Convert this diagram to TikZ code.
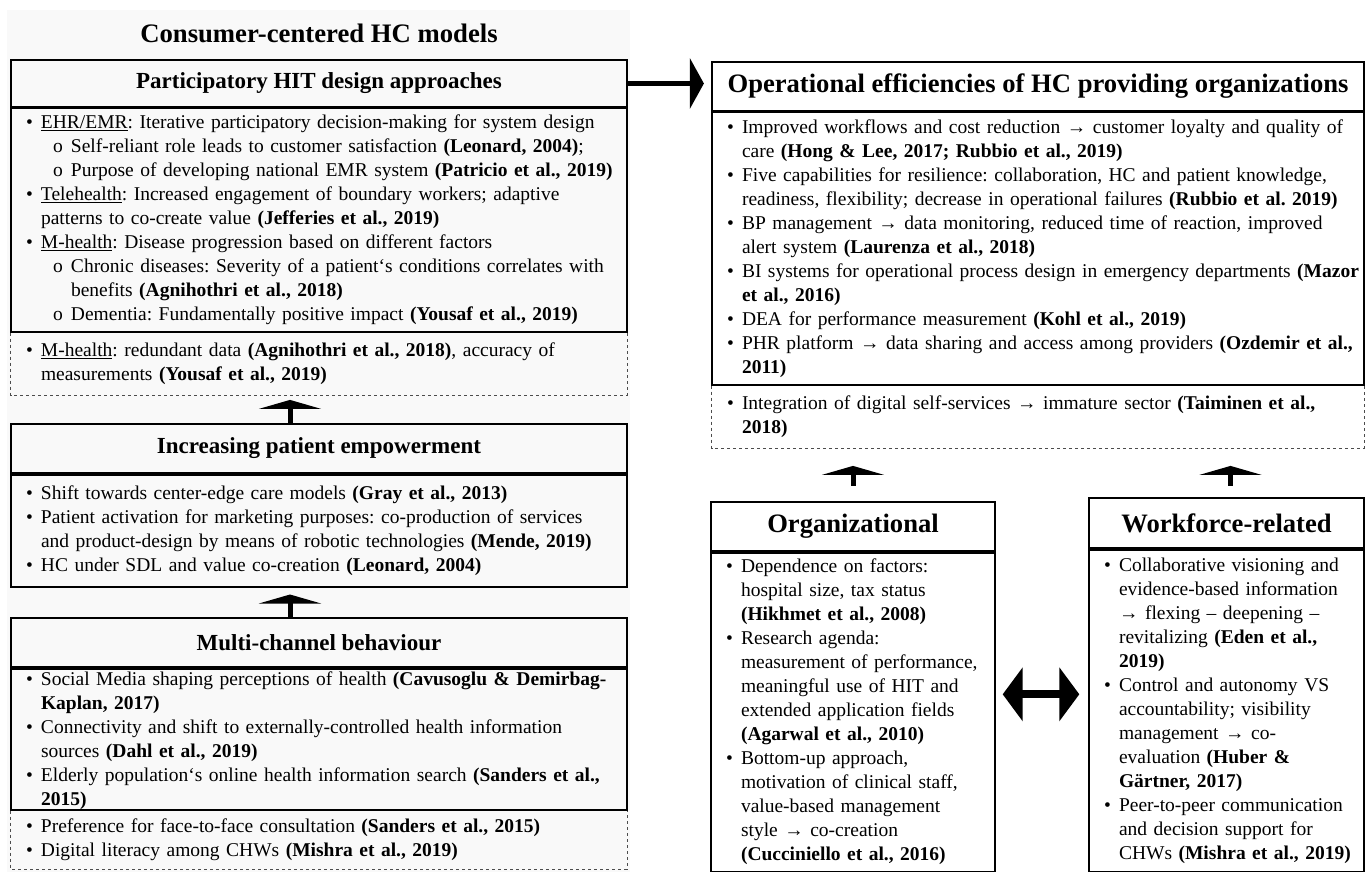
\documentclass[tikz,border=0pt]{standalone}
\usepackage{fontspec}
\setmainfont{Liberation Serif}
\usetikzlibrary{arrows.meta,positioning}

\newcommand{\itm}[1]{\par\hangindent=30pt\hangafter=1\noindent\hspace*{15pt}\makebox[15pt][l]{\textbullet}#1\par}
\newcommand{\subitm}[1]{\par\hangindent=60pt\hangafter=1\noindent\hspace*{42pt}\makebox[18pt][l]{o}#1\par}
\newcommand{\topfix}{\par\vspace*{-10.5pt}}

\begin{document}
\begin{tikzpicture}[x=1pt,y=-1pt,
    head/.style={draw, line width=2.2pt, inner sep=0pt, font=\fontsize{23}{27}\selectfont\bfseries},
    bighead/.style={head, font=\fontsize{26.6}{30}\selectfont\bfseries},
    part/.style={inner xsep=0pt, inner ysep=0pt, align=left, font=\fontsize{19.5}{24}\selectfont\frenchspacing, execute at begin node=\topfix},
    body/.style={part, draw, line width=1.4pt},
    dashbox/.style={draw=gray!60!black, dashed, line width=0.8pt},
    uparrow/.style={line width=5pt, -{Triangle[width=62pt,length=9pt]}}]
    \useasboundingbox (0,0) rectangle (1365,872);
    \fill [gray!5] (7,10) rectangle (630,872); % panel gauche
    \node (title) [font=\fontsize{26.7}{30}\selectfont\bfseries] at (319,33) {Consumer-centered HC models};
    % bloc 1
    \node (h1) [head, minimum width=616pt, minimum height=47pt] at (319,83.5) {Participatory HIT design approaches};
    \node (b1) [body, text width=616pt, minimum height=223pt, anchor=north] at (h1.south) {%
      \itm{\underline{EHR/EMR}: Iterative participatory decision-making for system design}
      \subitm{Self-reliant role leads to customer satisfaction \textbf{(Leonard, 2004)};}
      \subitm{Purpose of developing national EMR system \textbf{(Patricio et al., 2019)}}
      \itm{\underline{Telehealth}: Increased engagement of boundary workers; adaptive\newline patterns to co-create value \textbf{(Jefferies et al., 2019)}}
      \itm{\underline{M-health}: Disease progression based on different factors}
      \subitm{Chronic diseases: Severity of a patient‘s conditions correlates with\newline benefits \textbf{(Agnihothri et al., 2018)}}
      \subitm{Dementia: Fundamentally positive impact \textbf{(Yousaf et al., 2019)}}};
    \node (d1) [part, text width=616pt, minimum height=62pt, anchor=north] at (b1.south) {%
      \itm{\underline{M-health}: redundant data \textbf{(Agnihothri et al., 2018)}, accuracy of\newline measurements \textbf{(Yousaf et al., 2019)}}};
    \draw [dashbox] (d1.north west) -- (d1.south west) -- (d1.south east) -- (d1.north east);
    % bloc 2
    \node (h2) [head, minimum width=616pt, minimum height=49pt] at (319,448.5) {Increasing patient empowerment};
    \node (b2) [body, text width=616pt, minimum height=112pt, anchor=north] at (h2.south) {%
      \itm{Shift towards center-edge care models \textbf{(Gray et al., 2013)}}
      \itm{Patient activation for marketing purposes: co-production of services\newline and product-design by means of robotic technologies \textbf{(Mende, 2019)}}
      \itm{HC under SDL and value co-creation \textbf{(Leonard, 2004)}}};
    % bloc 3
    \node (h3) [head, minimum width=616pt, minimum height=49pt] at (319,642.5) {Multi-channel behaviour};
    \node (b3) [body, text width=616pt, minimum height=141pt, anchor=north] at (h3.south) {%
      \vspace*{3pt}
      \itm{Social Media shaping perceptions of health \textbf{(Cavusoglu \& Demirbag-}\newline\textbf{Kaplan, 2017)}}
      \itm{Connectivity and shift to externally-controlled health information\newline sources \textbf{(Dahl et al., 2019)}}
      \itm{Elderly population‘s online health information search \textbf{(Sanders et al.,}\newline\textbf{2015)}}};
    \node (d3) [part, text width=616pt, minimum height=58pt, anchor=north] at (b3.south) {%
      \itm{Preference for face-to-face consultation \textbf{(Sanders et al., 2015)}}
      \itm{Digital literacy among CHWs \textbf{(Mishra et al., 2019)}}};
    \draw [dashbox] (d3.north west) -- (d3.south west) -- (d3.south east) -- (d3.north east);
    % bloc efficiences
    \node (hr) [bighead, minimum width=652pt, minimum height=49pt] at (1038,86.5) {Operational efficiencies of HC providing organizations};
    \node (br) [body, text width=652pt, minimum height=272pt, anchor=north] at (hr.south) {%
      \itm{Improved workflows and cost reduction → customer loyalty and quality of\newline care \textbf{(Hong \& Lee, 2017; Rubbio et al., 2019)}}
      \itm{Five capabilities for resilience: collaboration, HC and patient knowledge,\newline readiness, flexibility; decrease in operational failures \textbf{(Rubbio et al. 2019)}}
      \itm{BP management → data monitoring, reduced time of reaction, improved\newline alert system \textbf{(Laurenza et al., 2018)}}
      \itm{BI systems for operational process design in emergency departments \textbf{(Mazor}\newline\textbf{et al., 2016)}}
      \itm{DEA for performance measurement \textbf{(Kohl et al., 2019)}}
      \itm{PHR platform → data sharing and access among providers \textbf{(Ozdemir et al.,}\newline\textbf{2011)}}};
    \node (dr) [part, text width=652pt, minimum height=62pt, anchor=north] at (br.south) {%
      \itm{Integration of digital self-services → immature sector \textbf{(Taiminen et al.,}\newline\textbf{2018)}}};
    \draw [dashbox] (dr.north west) -- (dr.south west) -- (dr.south east) -- (dr.north east);
    % bloc organisation
    \node (ho) [bighead, minimum width=284pt, minimum height=49pt] at (853,526.5) {Organizational};
    \node (bo) [body, text width=284pt, minimum height=319pt, anchor=north] at (ho.south) {%
      \itm{Dependence on factors:\newline hospital size, tax status\newline \textbf{(Hikhmet et al., 2008)}}
      \itm{Research agenda:\newline measurement of performance,\newline meaningful use of HIT and\newline extended application fields\newline \textbf{(Agarwal et al., 2010)}}
      \itm{Bottom-up approach,\newline motivation of clinical staff,\newline value-based management\newline style → co-creation\newline \textbf{(Cucciniello et al., 2016)}}};
    % bloc personnel
    \node (hw) [bighead, minimum width=275pt, minimum height=50pt] at (1226.5,523) {Workforce-related};
    \node (bw) [body, text width=275pt, minimum height=322pt, anchor=north] at (hw.south) {%
      \itm{Collaborative visioning and\newline evidence-based information\newline → flexing – deepening –\newline revitalizing \textbf{(Eden et al.,}\newline\textbf{2019)}}
      \itm{Control and autonomy VS\newline accountability; visibility\newline management → co-\newline evaluation \textbf{(Huber \&}\newline\textbf{Gärtner, 2017)}}
      \itm{Peer-to-peer communication\newline and decision support for\newline CHWs \textbf{(Mishra et al., 2019)}}};
    % fleches
    \draw [uparrow] ([xshift=-29pt]h2.north) -- ([xshift=-29pt,yshift=-5pt]d1.south);
    \draw [uparrow] ([xshift=-29pt]h3.north) -- ([xshift=-29pt,yshift=-7pt]b2.south);
    \draw [uparrow, shorten <=15pt, shorten >=18pt] (ho.north) -- (ho.north |- dr.south);
    \draw [uparrow, shorten <=11pt, shorten >=18pt] ([xshift=4pt]hw.north) -- ([xshift=4pt]hw.north |- dr.south);
    \draw [line width=5pt, -{Triangle[width=50pt,length=14pt]}, shorten >=7pt] (h1.east) -- (h1.east -| hr.west);
    \draw [line width=8pt, {Triangle[width=53pt,length=20pt]}-{Triangle[width=53pt,length=20pt]}, shorten <=7pt, shorten >=9pt] ([yshift=18pt]bo.east) -- ([yshift=18pt]bo.east -| bw.west);
\end{tikzpicture}
\end{document}
